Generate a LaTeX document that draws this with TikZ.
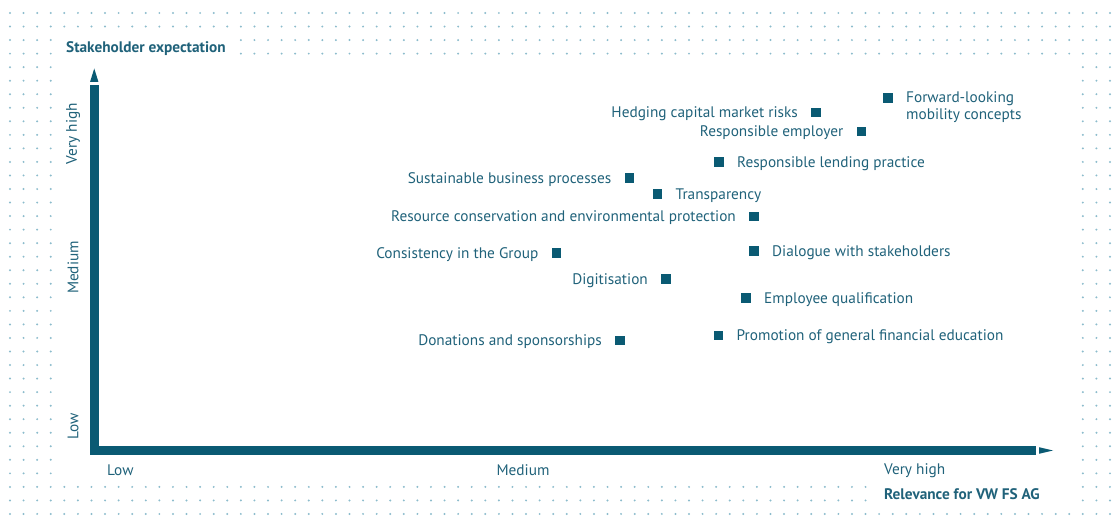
\documentclass[tikz,border=0pt]{standalone}
\usepackage{fontspec}
\setmainfont{PT Sans}
\usetikzlibrary{positioning}
\definecolor{fsteal}{RGB}{10,90,115}
\definecolor{fstext}{RGB}{32,98,122}
\definecolor{fsdot}{RGB}{140,188,204}
\tikzset{marker/.style={fill=fsteal, inner sep=0pt, minimum size=9.5pt}}
\tikzset{lbl/.style={text=fstext, inner sep=0pt, yshift=-1.5pt, font=\fontsize{15.3}{16.5}\selectfont}}
\tikzset{title/.style={text=fstext, inner sep=0pt, yshift=-1.5pt, font=\fontsize{15.3}{16.5}\selectfont\bfseries}}
\tikzset{axisbar/.style={line width=8.5pt, color=fsteal, line join=miter}}
\tikzset{griddot/.style={fill=fsdot}}

\begin{document}
\begin{tikzpicture}[x=1pt, y=-1pt]
        \useasboundingbox (0,0) rectangle (1112,524);

        % dotted frame
        \foreach \j in {0,1,37} \foreach \i in {0,...,81}
            \fill[griddot] ({10+13.58*\i},{13+13.54*\j}) circle (1.1);
        \foreach \j in {2,3} \foreach \i in {17,...,81}
            \fill[griddot] ({10+13.58*\i},{13+13.54*\j}) circle (1.1);
        \foreach \j in {35,36} \foreach \i in {4,...,63}
            \fill[griddot] ({10+13.58*\i},{13+13.54*\j}) circle (1.1);
        \foreach \j in {2,...,36} \foreach \i in {0,...,3}
            \fill[griddot] ({10+13.58*\i},{13+13.54*\j}) circle (1.1);
        \foreach \j in {4,...,36} \foreach \i in {79,...,81}
            \fill[griddot] ({10+13.58*\i},{13+13.54*\j}) circle (1.1);

        % axes
        \coordinate (ytop) at (94.25,85.5);
        \coordinate (origin) at (94.25,450.5);
        \coordinate (xend) at (1035.5,450.5);
        \coordinate (ytip) at (94.25,68.5);
        \coordinate (xtip) at (1053,450.5);
        \draw[axisbar] (ytop) -- (origin) -- (xend);
        \fill[fsteal] (ytip) -- ++(4.2,13.4) -- ++(-8.4,0) -- cycle;
        \fill[fsteal] (xtip) -- ++(-14,3.3) -- ++(0,-6.6) -- cycle;

        \node[title, anchor=west] (ytitle) at (66,47) {Stakeholder expectation};
        \node[title, anchor=west] (xtitle) at (884,493) {Relevance for VW FS AG};
        \node[lbl, anchor=west] (xlow) at (107,469) {Low};
        \node[lbl] (xmed) at (523,469) {Medium};
        \node[lbl, anchor=west] (xhigh) at (884,469) {Very high};
        \node[lbl, rotate=90] (ylow) at (73,425) {Low};
        \node[lbl, rotate=90] (ymed) at (73,266) {Medium};
        \node[lbl, rotate=90] (yhigh) at (73,132) {Very high};

        % topics
        \node[marker] (forward) at (888,98) {};
        \node[marker] (hedging) at (816,112.5) {};
        \node[marker] (employer) at (861.5,131.5) {};
        \node[marker] (lending) at (719,162) {};
        \node[marker] (sustain) at (629.5,178) {};
        \node[marker] (transp) at (657.5,194) {};
        \node[marker] (resource) at (754,216.5) {};
        \node[marker] (dialogue) at (754,251) {};
        \node[marker] (consist) at (556.5,253) {};
        \node[marker] (digital) at (666,279) {};
        \node[marker] (qualif) at (746,298) {};
        \node[marker] (promo) at (718.5,335.5) {};
        \node[marker] (donate) at (620,340.5) {};

        \node[lbl, align=left, anchor=north west] (forwardtxt) at ([xshift=13pt, yshift=3pt]forward.north east) {Forward-looking\\mobility concepts};
        \node[lbl, left=13pt of hedging] (hedgingtxt) {Hedging capital market risks};
        \node[lbl, left=13pt of employer] (employertxt) {Responsible employer};
        \node[lbl, right=13pt of lending] (lendingtxt) {Responsible lending practice};
        \node[lbl, left=13pt of sustain] (sustaintxt) {Sustainable business processes};
        \node[lbl, right=13pt of transp] (transptxt) {Transparency};
        \node[lbl, left=13pt of resource] (resourcetxt) {Resource conservation and environmental protection};
        \node[lbl, right=13pt of dialogue] (dialoguetxt) {Dialogue with stakeholders};
        \node[lbl, left=13pt of consist] (consisttxt) {Consistency in the Group};
        \node[lbl, left=13pt of digital] (digitaltxt) {Digitisation};
        \node[lbl, right=13pt of qualif] (qualiftxt) {Employee qualification};
        \node[lbl, right=13pt of promo] (promotxt) {Promotion of general financial education};
        \node[lbl, left=13pt of donate] (donatetxt) {Donations and sponsorships};
    \end{tikzpicture}
\end{document}
